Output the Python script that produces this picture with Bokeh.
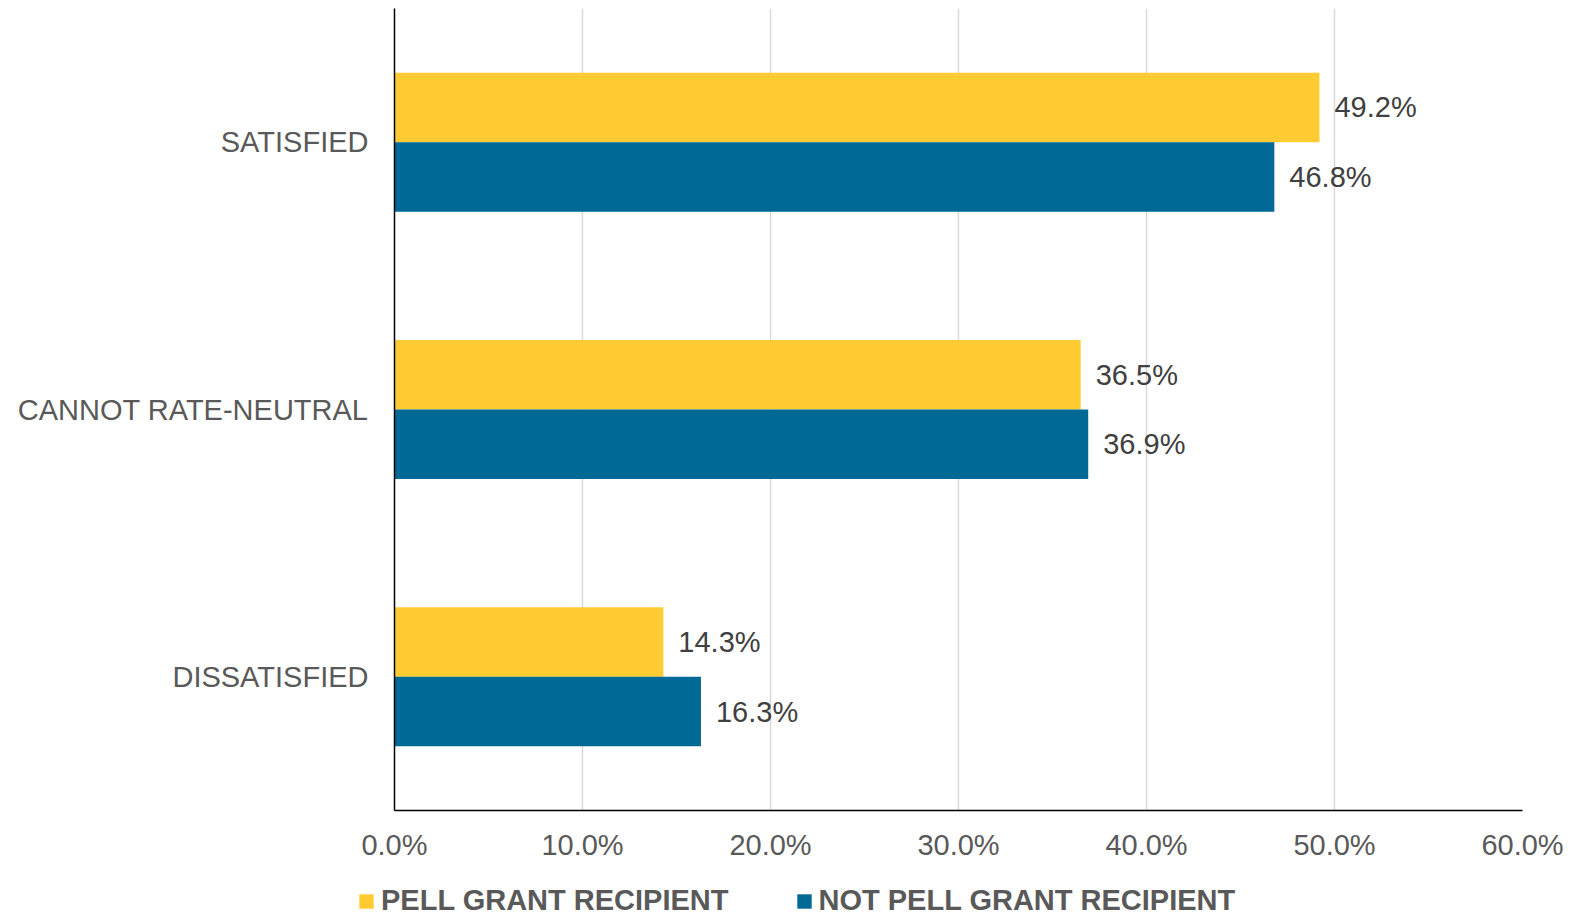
from bokeh.plotting import figure
from bokeh.layouts import column, row
from bokeh.models import (FactorRange, Range1d, FixedTicker, PrintfTickFormatter,
                          Legend, LegendItem, ColumnDataSource)
from bokeh.transform import dodge
from bokeh.core.properties import value
from bokeh.embed import file_html
from bokeh.resources import INLINE

categories = ["SATISFIED", "CANNOT RATE-NEUTRAL", "DISSATISFIED"]
pell = [49.2, 36.5, 14.3]
not_pell = [46.8, 36.9, 16.3]
series_names = ["PELL GRANT RECIPIENT", "NOT PELL GRANT RECIPIENT"]
x_ticks = [0, 10, 20, 30, 40, 50, 60]

YELLOW = "#FFCB33"
BLUE = "#006996"
FONT = "Liberation Sans"

src = ColumnDataSource(dict(
    cat=categories,
    pell=pell,
    not_pell=not_pell,
    pell_lbl=[f"{v:.1f}%" for v in pell],
    not_pell_lbl=[f"{v:.1f}%" for v in not_pell],
))

p = figure(width=1576, height=870, output_backend="svg", toolbar_location=None,
           y_range=FactorRange(factors=categories[::-1]),
           x_range=Range1d(0, 60),
           min_border_left=394, min_border_right=54, min_border_top=8,
           min_border_bottom=60)
p.outline_line_color = None

r1 = p.hbar(y=dodge("cat", 0.13, range=p.y_range), left=0, right="pell", height=0.26,
            source=src, color=YELLOW, line_color=None)
r2 = p.hbar(y=dodge("cat", -0.13, range=p.y_range), left=0, right="not_pell", height=0.26,
            source=src, color=BLUE, line_color=None)

for col, lbl, off in (("pell", "pell_lbl", 0.13), ("not_pell", "not_pell_lbl", -0.13)):
    p.text(x=col, y=dodge("cat", off, range=p.y_range), text=lbl, source=src,
           x_offset=15, text_align="left", text_baseline="middle",
           text_font=value(FONT), text_font_size="29px", text_color="#404040")

# axes
p.xaxis.ticker = FixedTicker(ticks=x_ticks)
p.xaxis.formatter = PrintfTickFormatter(format="%.1f%%")
for ax in (p.xaxis, p.yaxis):
    ax.axis_line_color = "black"
    ax.axis_line_width = 1.5
    ax.major_tick_line_color = None
    ax.minor_tick_line_color = None
    ax.major_tick_out = 0
    ax.major_tick_in = 0
    ax.major_label_text_font = FONT
    ax.major_label_text_font_size = "29px"
    ax.major_label_text_color = "#595959"
p.xaxis.major_label_standoff = 18
p.yaxis.major_label_standoff = 26

p.xgrid.grid_line_color = "#D9D9D9"
p.xgrid.grid_line_width = 1.5
p.xgrid.ticker = FixedTicker(ticks=x_ticks)
p.ygrid.grid_line_color = None

# legend strip below the chart (swatch renderers have zero-width bars)
lg = figure(width=1576, height=47, output_backend="svg", toolbar_location=None,
            x_range=Range1d(0, 1), y_range=Range1d(0, 1),
            x_axis_type=None, y_axis_type=None, min_border=0)
lg.outline_line_color = None
d1 = lg.hbar(y=[0.5], left=[0], right=[0], height=0.5, color=YELLOW, line_color=None)
d2 = lg.hbar(y=[0.5], left=[0], right=[0], height=0.5, color=BLUE, line_color=None)
legend = Legend(items=[LegendItem(label=series_names[0], renderers=[d1]),
                       LegendItem(label=series_names[1], renderers=[d2])],
                orientation="horizontal", location=(357, 0),
                glyph_width=18, glyph_height=18, label_standoff=6, spacing=66,
                padding=0, margin=0, border_line_color=None,
                background_fill_alpha=0,
                label_text_font=FONT, label_text_font_size="29px",
                label_text_font_style="bold", label_text_color="#595959")
lg.add_layout(legend)

layout = column(p, row(lg), spacing=0)
open("out.html", "w").write(file_html(layout, INLINE))
